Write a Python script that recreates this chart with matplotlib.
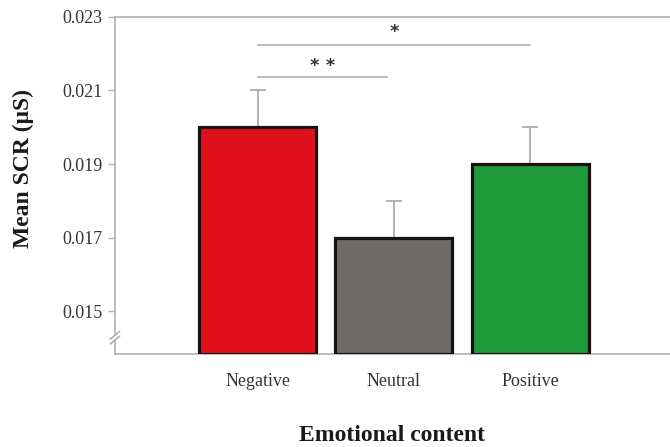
import matplotlib.pyplot as plt
import numpy as np

categories = ['Negative', 'Neutral', 'Positive']
means = [0.0200, 0.0170, 0.0190]
errors = [0.0010, 0.0010, 0.0010]
colors = ['#E0111A', '#6D6A6A', '#1F9A3B']
yticks = [0.015, 0.017, 0.019, 0.021, 0.023]
ytick_labels = ['0.015', '0.017', '0.019', '0.021', '0.023']

# significance brackets: (x start, x end, line y, star y, label)
sig_lines = [(0.0, 2.0, 0.02224, 0.02259, '*'),
             (0.0, 0.95, 0.02137, 0.02166, '* *')]

plt.rcParams['font.family'] = ['Liberation Serif', 'DejaVu Serif']
spine_gray = '#b0b0b0'
text_gray = '#333333'

fig = plt.figure(figsize=(6.7, 4.47), dpi=100)
ax = fig.add_axes([0.1716, 0.208, 0.8284, 0.754])

ymin, ymax = 0.01383, 0.023
ind = np.arange(len(categories))
width = 0.86

ax.bar(ind, np.array(means) - ymin, width, bottom=ymin, color=colors,
       edgecolor='#1a1212', linewidth=2.3, zorder=3)
ax.errorbar(ind, means, yerr=[np.zeros(3), errors], fmt='none',
            ecolor='#a0a0a0', elinewidth=1.1, capsize=5.5, capthick=1.1,
            zorder=2)

for x0, x1, y, ys, lab in sig_lines:
    ax.plot([x0, x1], [y, y], color='#a8a8a8', lw=1.1, zorder=2)
    ax.text((x0 + x1) / 2, ys, lab, ha='center', va='center',
            fontsize=13, color=text_gray, family='DejaVu Sans',
            fontweight='bold')

ax.set_xlim(-1.051, 3.029)
ax.set_ylim(ymin, ymax)
ax.set_yticks(yticks)
ax.set_yticklabels(ytick_labels)
ax.set_xticks(ind)
ax.set_xticklabels(categories)

ax.tick_params(axis='y', direction='out', length=5, width=1,
               color=spine_gray, labelsize=13, labelcolor=text_gray, pad=4)
ax.tick_params(axis='x', length=0, labelsize=13, labelcolor=text_gray, pad=14)

ax.spines['right'].set_visible(False)
for s in ['top', 'bottom']:
    ax.spines[s].set_color(spine_gray)
    ax.spines[s].set_linewidth(1.2)
ax.spines['left'].set_visible(False)

# left spine with an axis break near the bottom
trans = ax.get_yaxis_transform()
b_lo, b_hi = 0.01421, 0.01434
ax.plot([0, 0], [ymin, b_lo], color=spine_gray, lw=1.2, transform=trans,
        clip_on=False)
ax.plot([0, 0], [b_hi, ymax], color=spine_gray, lw=1.2, transform=trans,
        clip_on=False)
dx = 0.008
dy = 0.00010
for yb in (b_lo, b_hi):
    ax.plot([-dx, dx], [yb - dy, yb + dy], color=spine_gray, lw=1.2,
            transform=trans, clip_on=False)

ax.set_ylabel('Mean SCR (μS)', fontsize=17, fontweight='bold',
              color='#1a1a1a')
ax.yaxis.set_label_coords(-0.146, 0.55)
ax.set_xlabel('Emotional content', fontsize=17, fontweight='bold',
              color='#1a1a1a', labelpad=25)

fig.savefig('out.png', dpi=100)
